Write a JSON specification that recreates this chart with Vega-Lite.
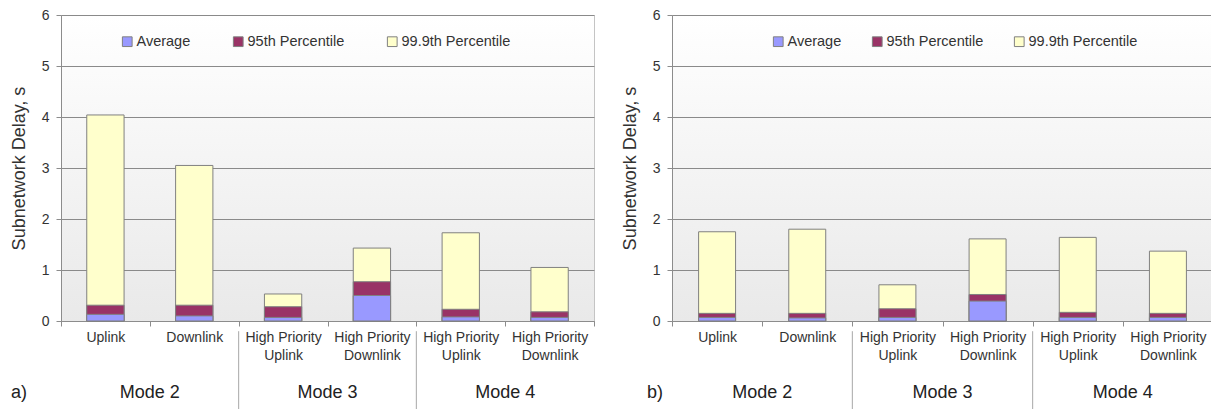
{
  "$schema": "https://vega.github.io/schema/vega-lite/v6.json",
  "padding": {"left": 9, "top": 7, "right": 0, "bottom": 0},
  "background": "white",
  "config": {
    "font": "Liberation Sans",
    "view": {
      "stroke": "#c4c4c4",
      "fill": {"gradient": "linear", "x1": 0, "y1": 0, "x2": 0, "y2": 1, "stops": [{"offset": 0, "color": "#ffffff"}, {"offset": 1, "color": "#e9e9e9"}]}
    },
    "axisX": {"title": null, "labelAngle": 0, "tickBand": "extent", "labelFontSize": 14, "labelColor": "#333333", "labelLineHeight": 18, "labelPadding": 4, "tickSize": 5, "tickColor": "#8c8c8c", "domainColor": "#8c8c8c", "grid": false, "labelExpr": "slice(split(datum.value, '|'), 1)"},
    "axisY": {"values": [0, 1, 2, 3, 4, 5, 6], "labelFontSize": 14, "labelColor": "#333333", "labelPadding": 7, "labelFlush": false, "tickSize": 5, "tickColor": "#8c8c8c", "domainColor": "#8c8c8c", "grid": true, "gridColor": "#8a8a8a", "gridWidth": 1.2, "gridOpacity": 1, "titleFontSize": 18, "titleFontWeight": "normal", "titleColor": "#333333", "titlePadding": 13},
    "text": {"font": "Liberation Sans"}
  },
  "datasets": {
    "a": [
      {"id": "1|Uplink", "avg": 0.13, "p95": 0.31, "p999": 4.04},
      {"id": "2|Downlink", "avg": 0.10, "p95": 0.31, "p999": 3.05},
      {"id": "3|High Priority|Uplink", "avg": 0.07, "p95": 0.28, "p999": 0.53},
      {"id": "4|High Priority|Downlink", "avg": 0.50, "p95": 0.77, "p999": 1.43},
      {"id": "5|High Priority|Uplink", "avg": 0.08, "p95": 0.23, "p999": 1.73},
      {"id": "6|High Priority|Downlink", "avg": 0.07, "p95": 0.18, "p999": 1.05}
    ],
    "b": [
      {"id": "1|Uplink", "avg": 0.07, "p95": 0.15, "p999": 1.75},
      {"id": "2|Downlink", "avg": 0.06, "p95": 0.15, "p999": 1.80},
      {"id": "3|High Priority|Uplink", "avg": 0.07, "p95": 0.24, "p999": 0.71},
      {"id": "4|High Priority|Downlink", "avg": 0.39, "p95": 0.52, "p999": 1.61},
      {"id": "5|High Priority|Uplink", "avg": 0.07, "p95": 0.17, "p999": 1.64},
      {"id": "6|High Priority|Downlink", "avg": 0.07, "p95": 0.15, "p999": 1.37}
    ],
    "modes": [
      {"mode": "Mode 2", "at": "2|Downlink"},
      {"mode": "Mode 3", "at": "4|High Priority|Downlink"},
      {"mode": "Mode 4", "at": "6|High Priority|Downlink"}
    ],
    "seps": [
      {"at": "3|High Priority|Uplink"},
      {"at": "5|High Priority|Uplink"}
    ]
  },
  "spacing": 25,
  "resolve": {"scale": {"x": "independent", "y": "independent"}, "legend": {"color": "independent"}},
  "hconcat": [
    {
      "width": 533,
      "height": 306,
      "encoding": {
        "x": {"field": "id", "type": "nominal", "sort": null, "scale": {"domain": ["1|Uplink", "2|Downlink", "3|High Priority|Uplink", "4|High Priority|Downlink", "5|High Priority|Uplink", "6|High Priority|Downlink"], "paddingInner": 0, "paddingOuter": 0}}
      },
      "layer": [
        {
          "data": {"name": "a"},
          "transform": [{"fold": ["p999", "p95", "avg"], "as": ["series", "value"]}],
          "mark": {"type": "bar", "stroke": "#808080", "strokeWidth": 1, "width": {"band": 0.42}},
          "encoding": {
            "y": {"field": "value", "type": "quantitative", "stack": null, "scale": {"domain": [0, 6], "nice": false}, "axis": {"title": "Subnetwork Delay, s"}},
            "color": {"field": "series", "type": "nominal", "scale": {"domain": ["avg", "p95", "p999"], "range": ["#9999ff", "#993366", "#ffffcc"]},
              "legend": {"orient": "none", "legendX": 59, "legendY": 19, "direction": "horizontal", "title": null, "symbolType": "square", "symbolSize": 95, "symbolStrokeColor": "#808080", "symbolStrokeWidth": 1, "labelFontSize": 14.5, "labelColor": "#333333", "labelOffset": 2, "columnPadding": 40, "labelExpr": "datum.value == 'avg' ? 'Average' : datum.value == 'p95' ? '95th Percentile' : '99.9th Percentile'"}}
          }
        },
        {
          "data": {"name": "seps"},
          "mark": {"type": "rule", "color": "#a8a8a8", "strokeWidth": 1},
          "encoding": {
            "x": {"field": "at", "type": "nominal", "bandPosition": 0},
            "y": {"datum": -0.2},
            "y2": {"datum": -1.75}
          }
        },
        {
          "data": {"name": "modes"},
          "mark": {"type": "text", "fontSize": 18, "color": "#222222", "baseline": "middle", "align": "center"},
          "encoding": {
            "x": {"field": "at", "type": "nominal", "bandPosition": 0},
            "y": {"datum": -1.41},
            "text": {"field": "mode"}
          }
        },
        {
          "data": {"values": [{"t": "a)", "at": "1|Uplink"}]},
          "mark": {"type": "text", "fontSize": 18, "color": "#222222", "baseline": "middle", "align": "left", "dx": -50},
          "encoding": {
            "x": {"field": "at", "type": "nominal", "bandPosition": 0},
            "y": {"datum": -1.41},
            "text": {"field": "t"}
          }
        }
      ]
    },
    {
      "width": 541,
      "height": 306,
      "encoding": {
        "x": {"field": "id", "type": "nominal", "sort": null, "scale": {"domain": ["1|Uplink", "2|Downlink", "3|High Priority|Uplink", "4|High Priority|Downlink", "5|High Priority|Uplink", "6|High Priority|Downlink"], "paddingInner": 0, "paddingOuter": 0}}
      },
      "layer": [
        {
          "data": {"name": "b"},
          "transform": [{"fold": ["p999", "p95", "avg"], "as": ["series", "value"]}],
          "mark": {"type": "bar", "stroke": "#808080", "strokeWidth": 1, "width": {"band": 0.41}},
          "encoding": {
            "y": {"field": "value", "type": "quantitative", "stack": null, "scale": {"domain": [0, 6], "nice": false}, "axis": {"title": "Subnetwork Delay, s"}},
            "color": {"field": "series", "type": "nominal", "scale": {"domain": ["avg", "p95", "p999"], "range": ["#9999ff", "#993366", "#ffffcc"]},
              "legend": {"orient": "none", "legendX": 99, "legendY": 19, "direction": "horizontal", "title": null, "symbolType": "square", "symbolSize": 95, "symbolStrokeColor": "#808080", "symbolStrokeWidth": 1, "labelFontSize": 14.5, "labelColor": "#333333", "labelOffset": 2, "columnPadding": 28, "labelExpr": "datum.value == 'avg' ? 'Average' : datum.value == 'p95' ? '95th Percentile' : '99.9th Percentile'"}}
          }
        },
        {
          "data": {"name": "seps"},
          "mark": {"type": "rule", "color": "#a8a8a8", "strokeWidth": 1},
          "encoding": {
            "x": {"field": "at", "type": "nominal", "bandPosition": 0},
            "y": {"datum": -0.2},
            "y2": {"datum": -1.75}
          }
        },
        {
          "data": {"name": "modes"},
          "mark": {"type": "text", "fontSize": 18, "color": "#222222", "baseline": "middle", "align": "center"},
          "encoding": {
            "x": {"field": "at", "type": "nominal", "bandPosition": 0},
            "y": {"datum": -1.41},
            "text": {"field": "mode"}
          }
        },
        {
          "data": {"values": [{"t": "b)", "at": "1|Uplink"}]},
          "mark": {"type": "text", "fontSize": 18, "color": "#222222", "baseline": "middle", "align": "left", "dx": -25},
          "encoding": {
            "x": {"field": "at", "type": "nominal", "bandPosition": 0},
            "y": {"datum": -1.41},
            "text": {"field": "t"}
          }
        }
      ]
    }
  ]
}
